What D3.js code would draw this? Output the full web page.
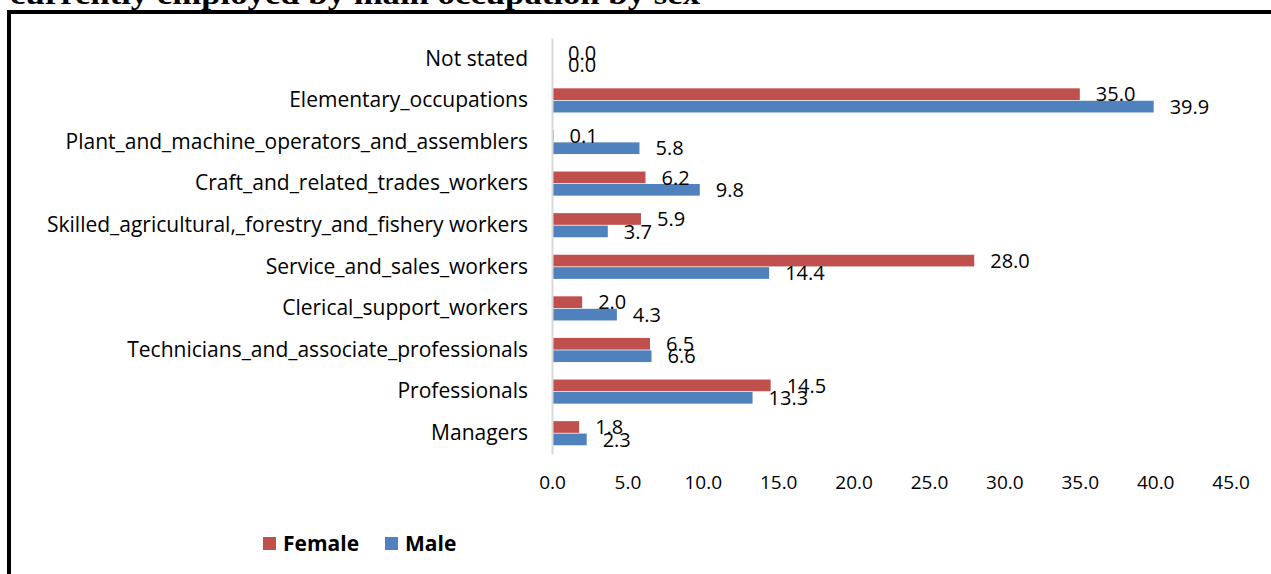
<!DOCTYPE html>
<html>
<head>
<meta charset="utf-8">
<script src="https://cdn.jsdelivr.net/npm/d3@7"></script>
<style>
  html, body { margin: 0; padding: 0; background: #fff; }
  svg { display: block; }
</style>
</head>
<body>
<svg id="chart" width="1271" height="574"></svg>
<script>
const title = 'currently employed by main occupation by sex';

const categories = [
  'Not stated',
  'Elementary_occupations',
  'Plant_and_machine_operators_and_assemblers',
  'Craft_and_related_trades_workers',
  'Skilled_agricultural,_forestry_and_fishery workers',
  'Service_and_sales_workers',
  'Clerical_support_workers',
  'Technicians_and_associate_professionals',
  'Professionals',
  'Managers',
];

const female = [0.0, 35.0, 0.1, 6.2, 5.9, 28.0, 2.0, 6.5, 14.5, 1.8];
const male = [0.0, 39.9, 5.8, 9.8, 3.7, 14.4, 4.3, 6.6, 13.3, 2.3];

const seriesNames = ['Female', 'Male'];
const seriesColors = ['#C0504D', '#4F81BD'];

const xTicks = [0, 5, 10, 15, 20, 25, 30, 35, 40, 45];

const svg = d3.select('#chart');

// frame of the document box
svg.append('path')
  .attr('d', 'M9,574V12H1271')
  .attr('fill', 'none')
  .attr('stroke', '#000')
  .attr('stroke-width', 4);

svg.append('text')
  .attr('x', 10)
  .attr('y', 3.5)
  .attr('textLength', 690)
  .attr('lengthAdjust', 'spacingAndGlyphs')
  .style('font-family', '"Liberation Serif", "DejaVu Serif", serif')
  .style('font-weight', 'bold')
  .style('font-size', '30px')
  .text(title);

const x = d3.scaleLinear().domain([0, 45]).range([552, 1230.6]);

const y = d3.scaleBand()
  .domain(categories)
  .range([38, 454])
  .paddingInner(0.42)
  .paddingOuter(0.21);

const ySub = d3.scaleBand()
  .domain(seriesNames)
  .range([0, y.bandwidth()])
  .paddingInner(0.06);

const rows = categories.map((c, i) => ({
  category: c,
  values: [female[i], male[i]],
}));

const labelFont = '"Open Sans", "DejaVu Sans", sans-serif';

// bars
const groups = svg.append('g')
  .selectAll('g')
  .data(rows)
  .join('g')
  .attr('transform', (d) => `translate(0,${y(d.category)})`);

groups.selectAll('rect')
  .data((d) => d.values.map((v, k) => ({ v, k })))
  .join('rect')
  .attr('x', x(0))
  .attr('y', (d) => ySub(seriesNames[d.k]))
  .attr('width', (d) => x(d.v) - x(0))
  .attr('height', ySub.bandwidth())
  .attr('fill', (d) => seriesColors[d.k]);

groups.selectAll('text')
  .data((d) => d.values.map((v, k) => ({ v, k })))
  .join('text')
  .attr('x', (d) => x(d.v) + 16)
  .attr('y', (d) => ySub(seriesNames[d.k]) + ySub.bandwidth() / 2)
  .attr('dy', '0.36em')
  .style('font-family', labelFont)
  .style('font-size', '20px')
  .attr('fill', '#000')
  .text((d) => d3.format('.1f')(d.v));

// category axis
const yAxis = svg.append('g')
  .attr('transform', `translate(${x(0)},0)`)
  .call(d3.axisLeft(y).tickSize(0).tickSizeOuter(0).tickPadding(24));

yAxis.select('.domain')
  .attr('stroke', '#D9D9D9')
  .attr('stroke-width', 2);

yAxis.selectAll('text')
  .style('font-family', labelFont)
  .style('font-size', '21px')
  .attr('fill', '#000');

// value axis, labels only
const xAxis = svg.append('g')
  .attr('transform', 'translate(0,472)')
  .call(
    d3.axisBottom(x)
      .tickValues(xTicks)
      .tickFormat(d3.format('.1f'))
      .tickSize(0)
      .tickPadding(3)
  );

xAxis.select('.domain').remove();
xAxis.selectAll('text')
  .style('font-family', labelFont)
  .style('font-size', '19px')
  .attr('fill', '#000');

// legend
const legend = svg.append('g')
  .selectAll('g')
  .data(seriesNames)
  .join('g')
  .attr('transform', (d, i) => `translate(${[263, 385][i]},537)`);

legend.append('rect')
  .attr('width', 13)
  .attr('height', 13)
  .attr('fill', (d, i) => seriesColors[i]);

legend.append('text')
  .attr('x', 20)
  .attr('y', 14)
  .style('font-family', labelFont)
  .style('font-weight', 'bold')
  .style('font-size', '21px')
  .attr('fill', '#000')
  .text((d) => d);
</script>
</body>
</html>
